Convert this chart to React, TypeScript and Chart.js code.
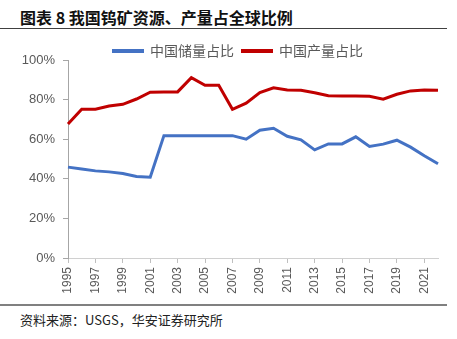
import React, { useEffect, useRef } from 'react';
import { Chart, registerables } from 'chart.js';

Chart.register(...registerables);

const years = ['1995', '1996', '1997', '1998', '1999', '2000', '2001', '2002', '2003', '2004', '2005', '2006', '2007', '2008', '2009', '2010', '2011', '2012', '2013', '2014', '2015', '2016', '2017', '2018', '2019', '2020', '2021', '2022'];
const reserveShare = [45.9, 44.9, 44.0, 43.5, 42.7, 41.2, 40.8, 61.8, 61.8, 61.8, 61.8, 61.8, 61.8, 60.0, 64.5, 65.5, 61.5, 59.7, 54.6, 57.6, 57.6, 61.2, 56.3, 57.5, 59.5, 56.0, 51.6, 47.6];
const productionShare = [67.7, 75.1, 75.1, 76.8, 77.6, 80.3, 83.7, 83.9, 83.9, 91.1, 87.2, 87.2, 75.1, 78.2, 83.5, 86.0, 84.9, 84.7, 83.5, 82.0, 81.8, 81.8, 81.7, 80.2, 82.7, 84.4, 84.9, 84.7];
const seriesNames = ['中国储量占比', '中国产量占比'];
const titleText = '图表 8 我国钨矿资源、产量占全球比例';
const sourceText = '资料来源：USGS，华安证券研究所';

const FONT = '"Liberation Sans", "Noto Sans CJK SC", sans-serif';
const CJK = '"Noto Sans CJK SC", sans-serif';

const legendPlugin = {
  id: 'customLegend',
  afterDraw(chart: any) {
    const ctx = chart.ctx;
    ctx.save();
    let x = 112;
    const y = 16;
    ctx.font = `14px ${CJK}`;
    ctx.textBaseline = 'middle';
    ctx.textAlign = 'left';
    chart.data.datasets.forEach((ds: any) => {
      ctx.strokeStyle = ds.borderColor;
      ctx.lineWidth = 4;
      ctx.beginPath();
      ctx.moveTo(x, y);
      ctx.lineTo(x + 32, y);
      ctx.stroke();
      x += 38;
      ctx.fillStyle = '#595959';
      ctx.fillText(ds.label, x, y);
      x += ctx.measureText(ds.label).width + 7;
    });
    ctx.restore();
  },
};

export default function App() {
  const ref = useRef<HTMLCanvasElement>(null);
  useEffect(() => {
    if (!ref.current) return;
    const chart = new Chart(ref.current, {
      type: 'line',
      data: {
        labels: years,
        datasets: [
          { label: seriesNames[0], data: reserveShare, borderColor: '#4472C4', backgroundColor: '#4472C4', borderWidth: 3, pointRadius: 0, tension: 0 },
          { label: seriesNames[1], data: productionShare, borderColor: '#C00000', backgroundColor: '#C00000', borderWidth: 3, pointRadius: 0, tension: 0 },
        ],
      },
      options: {
        animation: false,
        responsive: false,
        maintainAspectRatio: false,
        layout: { padding: { top: 25, right: 19, left: 0, bottom: 0 } },
        plugins: { legend: { display: false }, tooltip: { enabled: false } },
        scales: {
          x: {
            offset: false,
            grid: { display: true, drawOnChartArea: false, drawTicks: true, tickLength: 5, color: '#bfbfbf' },
            border: { color: '#d0d0d0', width: 1 },
            ticks: {
              autoSkip: false,
              minRotation: 90,
              maxRotation: 90,
              padding: 4,
              color: '#595959',
              font: { family: FONT, size: 12 },
              callback: (_v: any, i: number) => (i % 2 === 0 ? years[i] : null),
            },
            afterFit: (s: any) => { s.height = 42; },
          },
          y: {
            min: 0,
            max: 100,
            grid: { display: true, drawOnChartArea: false, drawTicks: true, tickLength: 5, color: '#a6a6a6' },
            border: { color: '#a6a6a6', width: 1 },
            ticks: {
              stepSize: 20,
              padding: 8,
              color: '#595959',
              font: { family: FONT, size: 13 },
              callback: (v: any) => `${v}%`,
            },
            afterFit: (s: any) => { s.width = 68; },
          },
        },
      },
      plugins: [legendPlugin],
    });
    return () => chart.destroy();
  }, []);

  return (
    <div style={{ position: 'fixed', left: 0, top: 0, width: 457, height: 339, background: '#fff', overflow: 'hidden' }}>
      <div style={{ position: 'absolute', left: 20, top: 6, fontFamily: CJK, fontWeight: 'bold', fontSize: 16, lineHeight: '22px', color: '#111', whiteSpace: 'nowrap' }}>{titleText}</div>
      <div style={{ position: 'absolute', left: 0, top: 28, width: 447, height: 1, background: '#404040' }} />
      <canvas ref={ref} width={457} height={265} style={{ position: 'absolute', left: 0, top: 35, width: 457, height: 265 }} />
      <div style={{ position: 'absolute', left: 0, top: 304, width: 447, height: 2, background: '#808080' }} />
      <div style={{ position: 'absolute', left: 20, top: 311, fontFamily: CJK, fontSize: 13, lineHeight: '18px', color: '#222', whiteSpace: 'nowrap' }}>{sourceText}</div>
    </div>
  );
}
